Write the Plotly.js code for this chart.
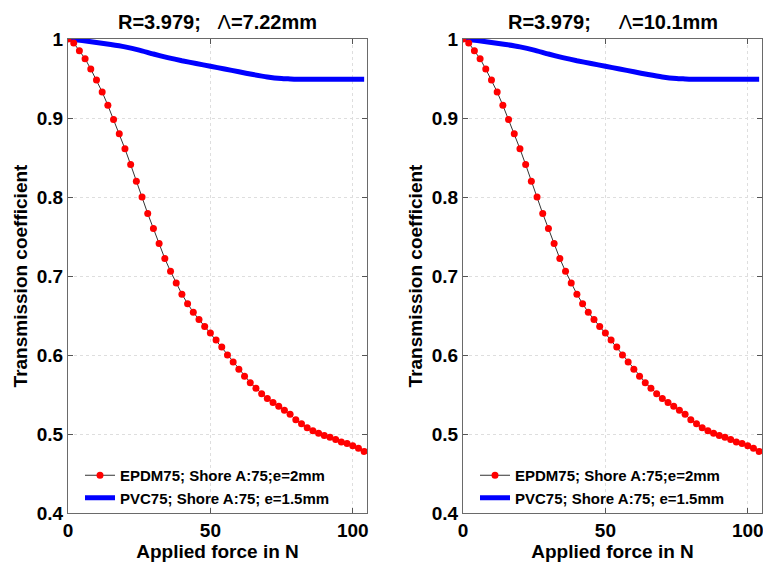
<!DOCTYPE html>
<html>
<head>
<meta charset="utf-8">
<script src="https://cdn.plot.ly/plotly-3.0.1.min.js"></script>
<style>html,body{margin:0;padding:0;background:#fff;}#chart{width:763px;height:563px;}</style>
</head>
<body>
<div id="chart"></div>
<script>
// ---- data ----
const forceN = [0,2,4,6,8,10,12,14,16,18,20,22,24,26,28,30,32,34,36,38,40,42,44,46,48,50,
  52,54,56,58,60,62,64,66,68,70,72,74,76,78,80,82,84,86,88,90,92,94,96,98,100,102,104];
const epdmT = [1.000,0.995,0.985,0.975,0.962,0.948,0.933,0.916,0.898,0.880,0.861,0.841,0.820,
  0.800,0.779,0.760,0.741,0.722,0.706,0.691,0.677,0.665,0.654,0.645,0.636,0.628,
  0.619,0.610,0.600,0.591,0.582,0.573,0.565,0.558,0.551,0.545,0.540,0.535,0.530,0.525,
  0.518,0.513,0.508,0.504,0.501,0.498,0.496,0.493,0.490,0.488,0.485,0.482,0.478];
const pvcForce = [0,5,10,15,20,25,30,35,40,45,50,55,60,65,70,75,78,80,85,90,95,100,104];
const pvcT = [1.000,0.998,0.9955,0.993,0.990,0.986,0.981,0.9765,0.9725,0.969,0.9655,0.962,
  0.9585,0.955,0.952,0.950,0.9494,0.949,0.949,0.949,0.949,0.949,0.949];
const seriesNames = ['EPDM75; Shore A:75;e=2mm', 'PVC75; Shore A:75; e=1.5mm'];
const panelTitles = ['R=3.979;\u00a0\u00a0 <span style="font-weight:normal">\u039b</span>=7.22mm',
                     'R=3.979;\u00a0\u00a0\u00a0\u00a0 <span style="font-weight:normal">\u039b</span>=10.1mm'];
const xTicks = [0, 50, 100];
const yTicks = [0.4, 0.5, 0.6, 0.7, 0.8, 0.9, 1];
const xTitle = 'Applied force in N';
const yTitle = 'Transmission coefficient';

// ---- build ----
const W = 763, H = 563;
const FONT = 'Liberation Sans, Arial, sans-serif';
const panels = [
  {xa: 'x', ya: 'y', lg: 'legend', x0: 68, x1: 367},
  {xa: 'x2', ya: 'y2', lg: 'legend2', x0: 463, x1: 762}
];
const traces = [];
panels.forEach(p => {
  traces.push({
    x: pvcForce, y: pvcT, name: seriesNames[1], xaxis: p.xa, yaxis: p.ya, legend: p.lg,
    mode: 'lines', line: {color: '#0000ff', width: 5, shape: 'spline', smoothing: 0.4}
  });
  traces.push({
    x: forceN, y: epdmT, name: seriesNames[0], xaxis: p.xa, yaxis: p.ya, legend: p.lg,
    mode: 'lines+markers', line: {color: '#333333', width: 1},
    marker: {color: '#ff0000', size: 7}
  });
});

function xAxis(p) {
  return {
    domain: [p.x0 / W, p.x1 / W], range: [0, 105], tickvals: xTicks,
    ticks: 'inside', ticklen: 5, tickcolor: '#555', showline: true, mirror: 'ticks',
    linecolor: '#6a6a6a', linewidth: 1, showgrid: true, gridcolor: '#dedede', griddash: 'dot',
    zeroline: false, ticklabeloverflow: 'allow',
    tickfont: {family: FONT, size: 19, weight: 'bold', color: '#000'},
    title: {text: xTitle, font: {family: FONT, size: 19, weight: 'bold', color: '#000'}, standoff: 2},
    anchor: p.ya
  };
}
function yAxis(p) {
  return {
    domain: [1 - 513 / H, 1 - 39 / H], range: [0.4, 1], tickvals: yTicks,
    ticks: 'inside', ticklen: 5, tickcolor: '#555', showline: true, mirror: 'ticks',
    linecolor: '#6a6a6a', linewidth: 1, showgrid: true, gridcolor: '#dedede', griddash: 'dot',
    zeroline: false, ticklabeloverflow: 'allow',
    tickfont: {family: FONT, size: 19, weight: 'bold', color: '#000'},
    title: {text: yTitle, font: {family: FONT, size: 19, weight: 'bold', color: '#000'}, standoff: 4},
    anchor: p.xa
  };
}
function legend(p) {
  return {
    x: (p.x0 + 12) / W, xanchor: 'left', y: 1 - 514 / H, yanchor: 'bottom', xref: 'paper', yref: 'paper',
    bgcolor: 'rgba(255,255,255,0)', borderwidth: 0, traceorder: 'reversed',
    font: {family: FONT, size: 15, weight: 'bold', color: '#000'}, tracegroupgap: 0
  };
}
const layout = {
  width: W, height: H, margin: {l: 0, r: 0, t: 0, b: 0},
  paper_bgcolor: '#fff', plot_bgcolor: '#fff', showlegend: true,
  font: {family: FONT, color: '#000'},
  xaxis: xAxis(panels[0]), yaxis: yAxis(panels[0]),
  xaxis2: xAxis(panels[1]), yaxis2: yAxis(panels[1]),
  legend: legend(panels[0]), legend2: legend(panels[1]),
  annotations: panels.map((p, i) => ({
    text: panelTitles[i], xref: 'paper', yref: 'paper',
    x: (p.x0 + p.x1) / 2 / W, y: 1 - 22 / H, xanchor: 'center', yanchor: 'middle',
    showarrow: false, font: {family: FONT, size: 20, weight: 'bold', color: '#000'}
  }))
};
Plotly.newPlot('chart', traces, layout, {staticPlot: true, displayModeBar: false});
</script>
</body>
</html>
